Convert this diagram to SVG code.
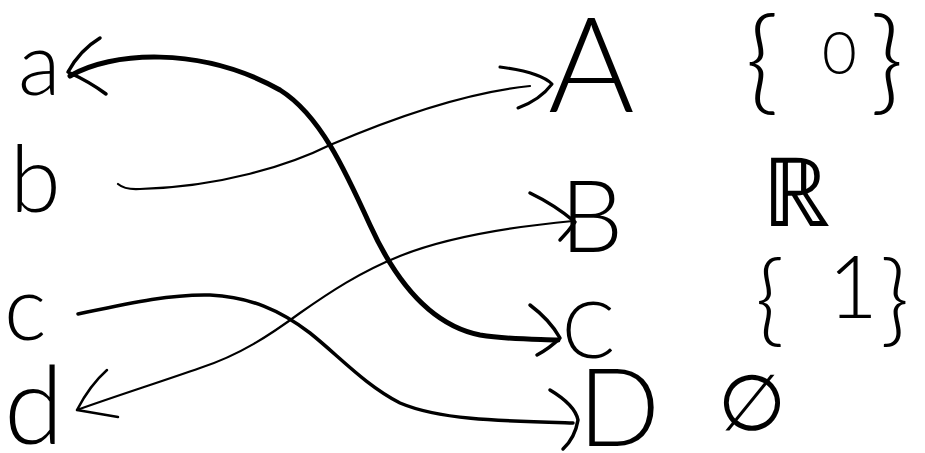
<svg xmlns="http://www.w3.org/2000/svg" width="925" height="453" viewBox="0 0 925 453">
<style>
.t{font-family:"Lato","Roboto","DejaVu Sans",sans-serif;font-weight:300;fill:#000}
.m{font-family:"DejaVu Sans","Noto Sans",sans-serif;font-weight:200;fill:#000}
.c{fill:none;stroke:#000;stroke-linecap:round;stroke-linejoin:round}
</style>
<rect width="925" height="453" fill="#fff"/>
<g id="node-a"><text class="t" x="18" y="95" font-size="88">a</text></g>
<g id="node-b"><text class="t" x="10" y="212" font-size="92">b</text></g>
<g id="node-c"><text class="t" x="4" y="340" font-size="90">c</text></g>
<g id="node-d"><text class="t" x="4" y="444" font-size="108">d</text></g>
<g id="node-A"><text class="t" x="548" y="112" font-size="132">A</text></g>
<g id="node-B"><text class="t" x="560" y="252" font-size="100">B</text></g>
<g id="node-C"><text class="t" x="562" y="358" font-size="78">C</text></g>
<g id="node-D"><text class="t" x="578" y="446" font-size="108">D</text></g>
<g id="set-0"><text class="t" x="745" y="100" font-size="115">{<tspan x="822" y="74" font-size="60">0</tspan><tspan x="870" y="100" font-size="115">}</tspan></text></g>
<g id="set-R"><text class="m" x="762" y="226" font-size="96">ℝ</text></g>
<g id="set-1"><text class="t" x="755" y="334" font-size="100">{<tspan x="828" y="318" font-size="86">1</tspan><tspan x="880" y="334" font-size="100">}</tspan></text></g>
<g id="set-empty"><text class="m" x="718" y="430" font-size="78">∅</text></g>
<g id="connectors">
<path class="c" stroke-width="5" d="M70,76 C110,52 200,45 280,90 C320,115 345,170 370,225 C395,280 430,325 480,335 C510,340 540,339 558,340"/>
<path class="c" stroke-width="3.5" d="M100,38 Q80,50 68,72 Q90,82 106,94"/>
<path class="c" stroke-width="3.5" d="M530,305 Q550,320 560,338 Q550,348 537,355"/>
<path class="c" stroke-width="2.2" d="M118,184 Q125,190 140,189 C220,187 290,165 330,145 C400,115 470,92 530,86"/>
<path class="c" stroke-width="3" d="M500,67 Q540,72 552,84 Q540,100 518,108"/>
<path class="c" stroke-width="2.2" d="M573,221 C520,226 450,236 400,256 C360,272 330,292 300,313 C270,335 240,355 200,368 C160,382 110,398 77,410"/>
<path class="c" stroke-width="2.5" d="M107,370 Q90,385 77,410 Q95,413 118,417"/>
<path class="c" stroke-width="3.5" d="M530,193 Q555,205 575,222 Q568,232 560,240"/>
<path class="c" stroke-width="3.5" d="M78,314 C130,303 170,294 210,295 C250,297 280,310 310,333 C340,357 365,385 400,403 C440,420 500,421 573,423"/>
<path class="c" stroke-width="3.5" d="M550,390 Q575,405 578,420 Q575,438 563,449"/>
</g>
</svg>
